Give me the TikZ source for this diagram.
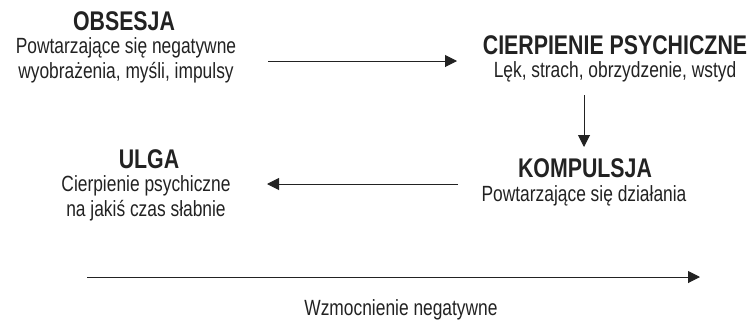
\documentclass[tikz,border=0pt]{standalone}
\usepackage{fontspec}
\setmainfont{Liberation Sans}
\newfontfamily\slimfont[FakeStretch=0.79]{Liberation Sans}
\usetikzlibrary{arrows.meta}
\definecolor{ink}{HTML}{222222}
\begin{document}
\begin{tikzpicture}[x=1pt,y=-1pt,
  head/.style={font=\slimfont\bfseries\fontsize{27}{29}\selectfont, text=ink, inner sep=0pt, anchor=center},
  body/.style={font=\slimfont\fontsize{22}{25}\selectfont, text=ink, inner sep=0pt, align=center, anchor=center},
  flow/.style={-{Triangle[length=12pt,width=12pt]}, line width=1pt, draw=ink}]
\useasboundingbox (0,0) rectangle (755,322);
% stages of the cycle
\node[head] (obs) at (124,21) {OBSESJA};
\node[body] (obsd) at (126,60) {Powtarzające się negatywne\\wyobrażenia, myśli, impulsy};
\node[head] (cier) at (615,45) {CIERPIENIE PSYCHICZNE};
\node[body] (cierd) at (615,72) {Lęk, strach, obrzydzenie, wstyd};
\node[head] (komp) at (585,168) {KOMPULSJA};
\node[body] (kompd) at (584,196) {Powtarzające się działania};
\node[head] (ulga) at (149,159) {ULGA};
\node[body] (ulgad) at (146,198) {Cierpienie psychiczne\\na jakiś czas słabnie};
% connectors
\coordinate (a1s) at (268,61);
\coordinate (a1e) at (457,61);
\draw[flow] (a1s) -- (a1e);
\coordinate (a2s) at (584,95);
\coordinate (a2e) at (584,147);
\draw[flow] (a2s) -- (a2e);
\coordinate (a3s) at (458,184);
\coordinate (a3e) at (267,184);
\draw[flow] (a3s) -- (a3e);
% reinforcement axis
\coordinate (rs) at (87,277);
\coordinate (re) at (700,277);
\draw[flow] (rs) -- (re);
\node[body] (reinf) at (401,310) {Wzmocnienie negatywne};
\end{tikzpicture}
\end{document}
